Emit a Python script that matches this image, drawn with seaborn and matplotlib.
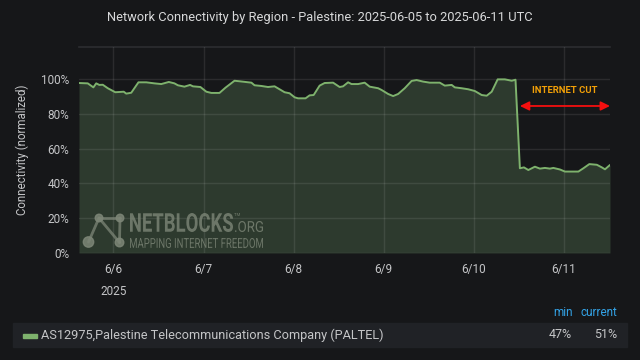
import matplotlib
matplotlib.use("Agg")
import matplotlib.pyplot as plt
import matplotlib.transforms as mtransforms
from matplotlib.font_manager import FontProperties
from matplotlib.patches import PathPatch, Rectangle, Circle
from matplotlib.textpath import TextPath
import pandas as pd
import seaborn as sns

# values (UTC, normalized %)
times = [
    "2025-06-05 14:50", "2025-06-05 17:10", "2025-06-05 18:40", "2025-06-05 19:25",
    "2025-06-05 20:15", "2025-06-05 21:10", "2025-06-05 22:30", "2025-06-06 00:30",
    "2025-06-06 02:45", "2025-06-06 03:25", "2025-06-06 04:45", "2025-06-06 05:35",
    "2025-06-06 06:40", "2025-06-06 08:45", "2025-06-06 10:55", "2025-06-06 12:45",
    "2025-06-06 14:45", "2025-06-06 16:15", "2025-06-06 17:10", "2025-06-06 18:55",
    "2025-06-06 20:25", "2025-06-06 21:10", "2025-06-06 23:10", "2025-06-07 00:45",
    "2025-06-07 02:05", "2025-06-07 04:15", "2025-06-07 05:50", "2025-06-07 08:15",
    "2025-06-07 09:35", "2025-06-07 12:45", "2025-06-07 13:35", "2025-06-07 15:25",
    "2025-06-07 17:10", "2025-06-07 18:55", "2025-06-07 20:15", "2025-06-07 21:35",
    "2025-06-07 22:55", "2025-06-08 00:15", "2025-06-08 01:10", "2025-06-08 03:10",
    "2025-06-08 04:15", "2025-06-08 05:20", "2025-06-08 06:55", "2025-06-08 08:15",
    "2025-06-08 10:30", "2025-06-08 12:15", "2025-06-08 13:10", "2025-06-08 14:30",
    "2025-06-08 15:25", "2025-06-08 17:10", "2025-06-08 18:55", "2025-06-08 20:15",
    "2025-06-08 22:30", "2025-06-08 23:25", "2025-06-09 01:10", "2025-06-09 02:30",
    "2025-06-09 03:50", "2025-06-09 05:35", "2025-06-09 07:25", "2025-06-09 08:45",
    "2025-06-09 10:30", "2025-06-09 12:15", "2025-06-09 14:55", "2025-06-09 16:15",
    "2025-06-09 18:05", "2025-06-09 18:55", "2025-06-09 20:45", "2025-06-09 22:30",
    "2025-06-10 00:15", "2025-06-10 02:05", "2025-06-10 03:25", "2025-06-10 04:45",
    "2025-06-10 06:20", "2025-06-10 08:15", "2025-06-10 10:05", "2025-06-10 11:05",
    "2025-06-10 12:15", "2025-06-10 13:20", "2025-06-10 14:30", "2025-06-10 16:15",
    "2025-06-10 17:35", "2025-06-10 18:55", "2025-06-10 20:15", "2025-06-10 21:10",
    "2025-06-10 22:55", "2025-06-11 00:15", "2025-06-11 03:50", "2025-06-11 05:10",
    "2025-06-11 06:45", "2025-06-11 08:45", "2025-06-11 10:05", "2025-06-11 10:55",
    "2025-06-11 12:15",
]
connectivity = [
    97.7, 97.5, 95.2, 97.5, 96.6, 96.7, 94.7, 92.4,
    92.7, 91.6, 92.1, 94.7, 98.1, 98.1, 97.5, 97.1,
    98.3, 97.5, 96.4, 95.6, 96.6, 95.8, 95.4, 92.7,
    92.0, 92.0, 95.0, 99.0, 98.7, 97.9, 96.4, 96.0,
    95.4, 95.8, 94.1, 92.4, 91.8, 89.5, 88.9, 88.9,
    90.6, 90.8, 96.2, 97.7, 97.9, 95.4, 95.8, 98.1,
    97.1, 97.1, 97.9, 95.6, 94.7, 93.7, 91.4, 90.2,
    91.4, 94.7, 98.9, 99.4, 98.5, 97.9, 97.9, 96.2,
    96.6, 95.2, 94.7, 94.1, 93.1, 90.8, 90.4, 92.7,
    99.8, 99.8, 99.0, 99.6, 48.7, 49.2, 47.7, 49.6,
    48.5, 48.9, 48.5, 48.9, 48.0, 46.8, 46.8, 48.7,
    51.1, 50.7, 49.2, 48.1, 50.6,
]
day_ticks = ["2025-06-06", "2025-06-07", "2025-06-08", "2025-06-09", "2025-06-10", "2025-06-11"]
day_labels = ["6/6\n2025", "6/7", "6/8", "6/9", "6/10", "6/11"]
y_ticks = [0, 20, 40, 60, 80, 100]
series_name = "AS12975,Palestine Telecommunications Company (PALTEL)"
legend_min = "47%"
legend_current = "51%"
cut_start = "2025-06-10 12:15"
title = "Network Connectivity by Region - Palestine: 2025-06-05 to 2025-06-11 UTC"

BG = "#161719"
FILL = "#2d3a2e"
LINE = "#7eb26d"
TXT = "#c4c5c7"

df = pd.DataFrame({"time": pd.to_datetime(times), "value": connectivity})

sns.set_theme(style="dark")
plt.rcParams["font.family"] = ["Roboto", "DejaVu Sans"]

fig = plt.figure(figsize=(6.4, 3.6), dpi=100, facecolor=BG)
ax = fig.add_axes([79 / 640, 107 / 360, 531 / 640, 206 / 360])
ax.set_facecolor(BG)

ax.fill_between(df["time"], 0, df["value"], color=FILL, lw=0, zorder=1)
sns.lineplot(data=df, x="time", y="value", ax=ax, color=LINE, lw=1.4, zorder=3)

ax.set_xlim(df["time"].iloc[0], df["time"].iloc[-1])
ax.set_ylim(0, 118.4)
ax.set_yticks(y_ticks)
ax.set_yticklabels([f"{v}%" for v in y_ticks])
ax.set_xticks(pd.to_datetime(day_ticks))
ax.set_xticklabels(day_labels, linespacing=1.9)
ax.tick_params(axis="both", length=0, colors=TXT, labelsize=8.5)
ax.tick_params(axis="y", pad=7)
ax.tick_params(axis="x", pad=7)
ax.grid(True, color="white", alpha=0.09, lw=1, zorder=2)
ax.set_axisbelow(False)
ax.set_xlabel("")
ax.set_ylabel("")
for name, sp in ax.spines.items():
    sp.set_visible(name == "top")
ax.spines["top"].set_color("#2b2c2f")

fig.text(22 / 640, 1 - 150 / 360, "Connectivity (normalized)", rotation=90,
         ha="center", va="center", color=TXT, fontsize=8.3)
fig.text(0.5, 1 - 18 / 360, title, ha="center", va="center", color="#d8d9da", fontsize=9.3)

# internet cut annotation
cut = pd.to_datetime(cut_start)
end = df["time"].iloc[-1]
ax.annotate("", xy=(end, 84.5), xytext=(cut, 84.5),
            arrowprops=dict(arrowstyle="<|-|>,head_length=0.45,head_width=0.22",
                            color="#f40f0f", lw=1.3, shrinkA=0, shrinkB=0), zorder=5)
ax.text(cut + (end - cut) / 2, 93.3, "INTERNET CUT", ha="center", va="center",
        color="#f2a007", fontsize=6.8, fontweight="bold", zorder=5)

# watermark (pixel coordinates, y measured from the top)
wm = "#7d8677"
px = mtransforms.IdentityTransform()
for (x0, y0, x1, y1) in [(99, 218, 88.5, 242), (99, 218, 119.5, 242.5),
                         (120, 218, 119.5, 242.5), (99, 218, 120, 218)]:
    fig.lines.append(plt.Line2D([x0, x1], [360 - y0, 360 - y1], transform=px,
                                color=wm, lw=2, alpha=0.75))
for (cx, cy, r) in [(99, 218, 3.8), (120, 218, 3.8), (88.5, 242, 5.2), (119.5, 242.5, 4.3)]:
    fig.patches.append(Circle((cx, 360 - cy), r, transform=px, color=wm, alpha=0.85, zorder=4))


def squeezed(text, x, y_top, width, height, weight="bold"):
    tp = TextPath((0, 0), text, size=10, prop=FontProperties(family="Roboto", weight=weight))
    bb = tp.get_extents()
    tr = mtransforms.Affine2D().translate(-bb.x0, -bb.y0).scale(
        width / bb.width, height / bb.height).translate(x, 360 - y_top - height)
    fig.patches.append(PathPatch(tp, transform=tr, color=wm, alpha=0.8, lw=0, zorder=4))


squeezed("NETBLOCKS", 130, 213, 103, 19)
squeezed(".ORG", 235, 221, 28, 11, weight="normal")
squeezed("TM", 234, 213, 6, 3, weight="normal")
squeezed("MAPPING INTERNET FREEDOM", 130, 238, 133, 10, weight="normal")

# legend row
fig.patches.append(Rectangle((13 / 640, 1 - 347 / 360), 614 / 640, 24 / 360,
                             transform=fig.transFigure, color="#202226", zorder=0))
fig.patches.append(Rectangle((23 / 640, 1 - 337.5 / 360), 14 / 640, 4 / 360,
                             transform=fig.transFigure, color=LINE, zorder=1))
fig.text(41 / 640, 1 - 335 / 360, series_name, ha="left", va="center", color=TXT, fontsize=9.2)
fig.text(572 / 640, 1 - 335 / 360, legend_min, ha="right", va="center", color=TXT, fontsize=9)
fig.text(617 / 640, 1 - 335 / 360, legend_current, ha="right", va="center", color=TXT, fontsize=9)
fig.text(573 / 640, 1 - 313 / 360, "min", ha="right", va="center", color="#33a2e5", fontsize=8.5)
fig.text(617 / 640, 1 - 313 / 360, "current", ha="right", va="center", color="#33a2e5", fontsize=8.5)

fig.savefig("out.png", dpi=100, facecolor=BG)
